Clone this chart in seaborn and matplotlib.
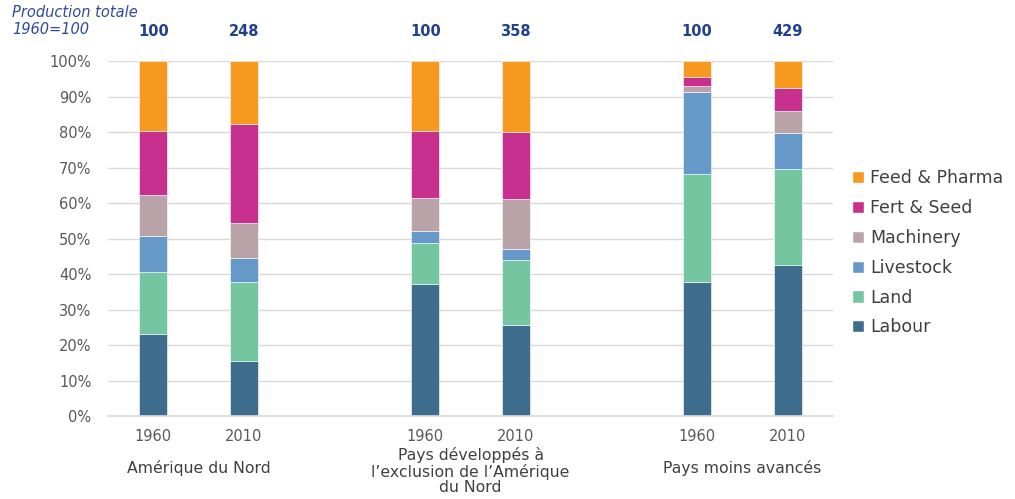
import pandas as pd
import matplotlib.pyplot as plt
import seaborn as sns
from matplotlib.patches import Patch
from matplotlib.ticker import FuncFormatter

sns.set_theme(style="white")
plt.rcParams['font.family'] = ['DejaVu Sans']

# Données (parts en % de la production)
groupes = ["Amérique du Nord",
           "Pays développés à\nl’exclusion de l’Amérique\ndu Nord",
           "Pays moins avancés"]
annees = ["1960", "2010", "1960", "2010", "1960", "2010"]
positions = [0, 1, 3, 4, 6, 7]
production = ["100", "248", "100", "358", "100", "429"]

composantes = ["Feed & Pharma", "Fert & Seed", "Machinery", "Livestock", "Land", "Labour"]
labour = [23.0, 15.6, 37.3, 25.8, 37.7, 42.7]
land = [17.6, 22.1, 11.5, 18.2, 30.5, 27.0]
livestock = [10.2, 7.0, 3.4, 3.1, 23.1, 10.2]
machinery = [11.6, 9.8, 9.4, 14.1, 1.8, 6.2]
fert_seed = [18.0, 28.0, 18.8, 19.0, 2.4, 6.5]
feed_pharma = [19.6, 17.5, 19.6, 19.8, 4.5, 7.4]

couleurs = {
    "Feed & Pharma": "#F7991E",
    "Fert & Seed": "#C8308F",
    "Machinery": "#B9A3A9",
    "Livestock": "#6699C8",
    "Land": "#74C6A0",
    "Labour": "#3E6D8E",
}

series = {
    "Feed & Pharma": feed_pharma,
    "Fert & Seed": fert_seed,
    "Machinery": machinery,
    "Livestock": livestock,
    "Land": land,
    "Labour": labour,
}

rows = []
for comp, vals in series.items():
    for pos, v in zip(positions, vals):
        rows.append({"pos": pos, "composante": comp, "part": v})
df = pd.DataFrame(rows)

fig = plt.figure(figsize=(10.15, 4.99), dpi=100)
ax = fig.add_axes([0.1064, 0.1663, 0.7143, 0.7105])

for y in range(10, 101, 10):
    ax.axhline(y, color="#D9D9D9", lw=1, zorder=0)

sns.histplot(data=df, x="pos", weights="part", hue="composante",
             hue_order=composantes, palette=couleurs, multiple="stack",
             discrete=True, shrink=0.31, alpha=1, edgecolor="white",
             linewidth=0.4, legend=False, ax=ax, zorder=2)

ax.set_xlim(-0.5, 7.5)
ax.set_ylim(0, 100)
ax.set_yticks(range(0, 101, 10))
ax.yaxis.set_major_formatter(FuncFormatter(lambda v, p: f"{v:.0f}%"))
ax.set_xticks(positions)
ax.set_xticklabels(annees)
ax.tick_params(axis="both", length=0, labelsize=10.5, colors="#595959")
ax.tick_params(axis="x", pad=9)
ax.tick_params(axis="y", pad=12)
ax.set_xlabel("")
ax.set_ylabel("")
for s in ["top", "right", "left"]:
    ax.spines[s].set_visible(False)
ax.spines["bottom"].set_color("#D9D9D9")

# Noms des groupes
trans = ax.get_xaxis_transform()
centres = [0.5, 3.5, 6.5]
ax.text(centres[0], -0.147, groupes[0], transform=trans, ha="center", va="center",
        fontsize=11.3, color="#404040")
ax.text(centres[1], -0.088, groupes[1], transform=trans, ha="center", va="top",
        fontsize=11.3, color="#404040", linespacing=1.05)
ax.text(centres[2], -0.147, groupes[2], transform=trans, ha="center", va="center",
        fontsize=11.3, color="#404040")

# Production totale
for pos, val in zip(positions, production):
    ax.text(pos, 1.085, val, transform=trans, ha="center", va="center",
            fontsize=10.5, fontweight="bold", color="#1F3F8F")
fig.text(0.012, 0.975, "Production totale", fontsize=10.5, style="italic",
         color="#2E4A9E", va="center")
fig.text(0.012, 0.94, "1960=100", fontsize=10.5, style="italic",
         color="#2E4A9E", va="center")

handles = [Patch(facecolor=couleurs[c], label=c) for c in composantes]
fig.legend(handles=handles, loc="upper left", bbox_to_anchor=(0.824, 0.692),
           frameon=False, fontsize=12.5, handlelength=0.7, handleheight=0.7,
           handletextpad=0.35, labelspacing=0.68, labelcolor="#404040")

fig.savefig("out.png", dpi=100)
